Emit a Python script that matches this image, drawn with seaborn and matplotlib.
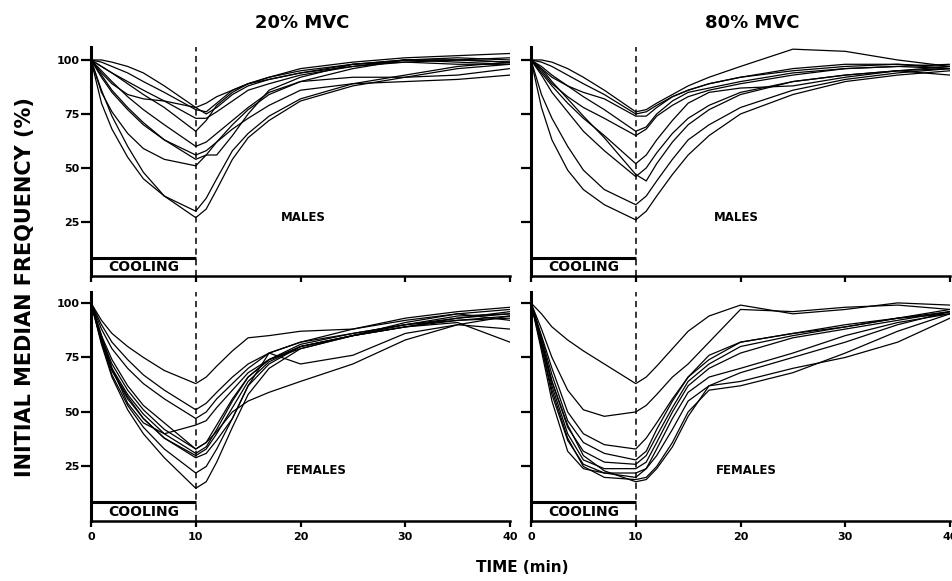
# -*- coding: utf-8 -*-
# initial median frequency after cooling, 4 panels (sex x %MVC)

import numpy as np
import pandas as pd
import matplotlib
matplotlib.use("Agg")
import matplotlib.pyplot as plt
import seaborn as sns

sns.set_style("ticks")
plt.rcParams["font.family"] = ["DejaVu Sans"]
plt.rcParams["font.weight"] = "bold"
plt.rcParams["text.color"] = "black"
plt.rcParams["xtick.color"] = "black"
plt.rcParams["ytick.color"] = "black"
plt.rcParams["axes.edgecolor"] = "black"

# time points (min)
TIME = [0, 1, 2, 3.5, 5, 7, 10, 11, 12, 13.5, 15, 17, 20, 25, 30, 35, 40]

# 20% MVC, males
M20 = [
    [100, 100, 99, 97, 94, 88, 78, 80, 83, 86, 89, 92, 95, 98, 100, 101, 100],
    [100, 99, 97, 94, 90, 85, 77, 76, 80, 86, 89, 92, 96, 99, 101, 102, 103],
    [100, 94, 89, 84, 82, 81, 78, 75, 78, 84, 88, 91, 94, 98, 99, 98, 98],
    [100, 97, 94, 90, 86, 81, 73, 73, 76, 81, 86, 89, 93, 97, 100, 100, 99],
    [100, 97, 94, 89, 84, 78, 67, 72, 79, 85, 89, 91, 94, 97, 99, 100, 101],
    [100, 95, 90, 83, 77, 70, 60, 62, 66, 72, 78, 85, 90, 92, 92, 93, 96],
    [100, 92, 85, 77, 70, 63, 56, 58, 62, 70, 77, 84, 90, 96, 100, 100, 99],
    [100, 93, 86, 78, 71, 63, 54, 56, 56, 65, 75, 86, 92, 98, 100, 99, 98],
    [100, 85, 76, 66, 59, 54, 51, 56, 62, 68, 73, 79, 86, 89, 90, 91, 93],
    [100, 80, 68, 55, 45, 37, 30, 36, 45, 58, 66, 74, 82, 89, 93, 97, 99],
    [100, 86, 74, 60, 48, 37, 27, 31, 40, 54, 64, 72, 81, 88, 92, 96, 98],
]

# 80% MVC, males
M80 = [
    [100, 100, 99, 96, 92, 86, 76, 77, 80, 84, 88, 92, 97, 105, 104, 100, 97],
    [100, 99, 97, 93, 89, 84, 75, 76, 79, 83, 86, 89, 92, 95, 97, 98, 97],
    [100, 96, 92, 88, 85, 82, 74, 74, 78, 83, 86, 89, 92, 96, 98, 98, 96],
    [100, 97, 93, 88, 83, 77, 67, 69, 75, 81, 85, 87, 90, 94, 96, 97, 96],
    [100, 95, 89, 83, 78, 73, 65, 68, 74, 79, 83, 86, 89, 93, 96, 97, 98],
    [100, 94, 88, 80, 73, 65, 52, 56, 63, 72, 80, 85, 87, 88, 92, 95, 97],
    [100, 96, 90, 82, 74, 64, 47, 44, 52, 62, 70, 77, 84, 90, 93, 95, 93],
    [100, 93, 85, 76, 67, 58, 46, 50, 57, 66, 73, 79, 85, 90, 93, 95, 96],
    [100, 84, 73, 60, 49, 40, 33, 37, 44, 54, 63, 70, 78, 86, 91, 94, 96],
    [100, 78, 63, 49, 40, 33, 26, 30, 37, 47, 56, 65, 75, 84, 90, 93, 95],
]

# 20% MVC, females
F20 = [
    [100, 92, 86, 80, 75, 69, 63, 66, 71, 78, 84, 85, 87, 88, 92, 95, 97],
    [100, 90, 82, 74, 67, 60, 51, 54, 59, 66, 72, 77, 82, 86, 90, 93, 95],
    [100, 88, 79, 70, 63, 56, 47, 50, 56, 63, 70, 77, 82, 88, 93, 96, 98],
    [100, 85, 70, 54, 45, 40, 44, 46, 52, 60, 68, 74, 79, 85, 90, 92, 93],
    [100, 84, 72, 60, 51, 42, 33, 36, 44, 56, 66, 74, 81, 86, 90, 94, 95],
    [100, 83, 70, 58, 49, 40, 31, 34, 42, 55, 66, 74, 80, 85, 89, 93, 96],
    [100, 82, 69, 56, 47, 38, 30, 33, 40, 52, 64, 73, 80, 85, 91, 95, 92],
    [100, 83, 69, 57, 47, 38, 29, 31, 37, 47, 62, 77, 72, 76, 86, 90, 88],
    [100, 82, 67, 53, 43, 33, 22, 25, 33, 47, 62, 72, 80, 85, 89, 92, 94],
    [100, 81, 66, 51, 40, 29, 15, 18, 27, 43, 58, 70, 79, 85, 89, 91, 82],
    [100, 85, 74, 62, 53, 45, 33, 36, 41, 50, 55, 59, 64, 72, 83, 90, 94],
]

# 80% MVC, females
F80 = [
    [100, 95, 89, 83, 78, 72, 63, 66, 71, 79, 87, 94, 99, 95, 97, 100, 99],
    [100, 88, 75, 60, 51, 48, 50, 53, 58, 66, 72, 82, 97, 96, 98, 99, 97],
    [100, 85, 70, 50, 40, 35, 33, 38, 45, 56, 66, 74, 82, 86, 89, 93, 96],
    [100, 84, 67, 46, 36, 31, 28, 32, 42, 55, 66, 76, 82, 86, 90, 93, 97],
    [100, 83, 64, 43, 32, 27, 26, 30, 39, 52, 64, 72, 80, 85, 89, 93, 95],
    [100, 82, 62, 40, 28, 24, 24, 27, 36, 50, 62, 70, 77, 84, 88, 92, 96],
    [100, 80, 58, 37, 26, 22, 20, 24, 33, 47, 59, 66, 70, 77, 85, 91, 95],
    [100, 78, 55, 32, 24, 22, 22, 24, 30, 42, 55, 62, 64, 70, 75, 82, 93],
    [100, 80, 60, 38, 25, 20, 19, 20, 25, 36, 50, 60, 62, 68, 77, 87, 95],
    [100, 82, 64, 44, 30, 23, 18, 19, 24, 34, 48, 62, 68, 75, 82, 90, 96],
]

PANELS = [
    ("M20", M20, "MALES", 20.3, 27),
    ("M80", M80, "MALES", 19.6, 27),
    ("F20", F20, "FEMALES", 21.5, 23),
    ("F80", F80, "FEMALES", 20.6, 23),
]
COLUMN_TITLES = ["20% MVC", "80% MVC"]
X_TICKS = [0, 10, 20, 30, 40]
Y_TICKS = [25, 50, 75, 100]
COOLING_END = 10
COOLING_TOP = 8.5


def long_frame(curves):
    rows = []
    for sid, vals in enumerate(curves):
        for t, v in zip(TIME, vals):
            rows.append({"time": t, "value": v, "subject": sid})
    return pd.DataFrame(rows)


fig = plt.figure(figsize=(9.52, 5.81), dpi=100)
W, H = 952, 581
boxes = [
    (91, 47, 276), (531, 47, 276),
    (91, 292, 521), (531, 292, 521),
]
ylims = [106, 106, 105, 105]

for i, ((name, curves, label, lx, ly), (x0, ytop, ybot)) in enumerate(zip(PANELS, boxes)):
    ax = fig.add_axes([x0 / W, 1 - ybot / H, 419 / W, (ybot - ytop) / H])
    df = long_frame(curves)
    sns.lineplot(data=df, x="time", y="value", units="subject", estimator=None,
                 color="black", lw=0.9, ax=ax, legend=False)
    ax.set_xlim(0, 40)
    ax.set_ylim(0, ylims[i])
    ax.set_xticks(X_TICKS)
    ax.set_yticks(Y_TICKS)
    ax.set_xlabel("")
    ax.set_ylabel("")
    for s in ["top", "right"]:
        ax.spines[s].set_visible(False)
    ax.spines["left"].set_linewidth(2.2)
    ax.spines["bottom"].set_linewidth(1.8)
    ax.tick_params(axis="x", direction="out", length=4, width=1.6,
                   labelsize=8, pad=4)
    ax.tick_params(axis="y", direction="out", length=7, width=1.6,
                   labelsize=8, pad=1.5)
    if i < 2:
        ax.tick_params(axis="x", labelbottom=False)
    if i % 2 == 1:
        ax.tick_params(axis="y", labelleft=False)
    for lab in ax.get_xticklabels() + ax.get_yticklabels():
        lab.set_fontweight("bold")

    # cooling period marker
    ax.axvline(COOLING_END, color="black", lw=1.1, ls=(0, (4, 3)))
    ax.plot([0, COOLING_END], [COOLING_TOP, COOLING_TOP], color="black", lw=2.2,
            solid_capstyle="butt")
    ax.text(COOLING_END / 2, COOLING_TOP / 2 - 0.2, "COOLING", ha="center", va="center",
            fontsize=10, fontweight="bold")
    ax.text(lx, ly, label, ha="center", va="center", fontsize=8.5, fontweight="bold")

fig.text(302 / W, 1 - 23 / H, COLUMN_TITLES[0], ha="center", va="center",
         fontsize=13, fontweight="bold")
fig.text(752 / W, 1 - 23 / H, COLUMN_TITLES[1], ha="center", va="center",
         fontsize=13, fontweight="bold")
fig.text(25 / W, 1 - 287 / H, "INITIAL MEDIAN FREQUENCY (%)", rotation=90,
         ha="center", va="center", fontsize=15, fontweight="bold")
fig.text(522 / W, 1 - 568 / H, "TIME (min)", ha="center", va="center",
         fontsize=11, fontweight="bold")

fig.savefig("out.png", dpi=100)
